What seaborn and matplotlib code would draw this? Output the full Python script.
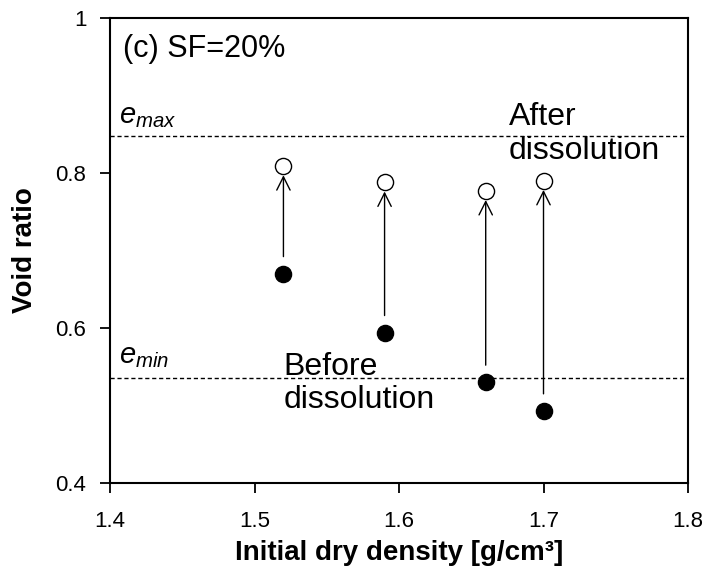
import matplotlib
matplotlib.use("Agg")
import matplotlib.pyplot as plt
import seaborn as sns
import pandas as pd

density = [1.52, 1.59, 1.66, 1.70]
e_before = [0.670, 0.594, 0.530, 0.493]
e_after = [0.809, 0.788, 0.777, 0.790]
e_max = 0.848
e_min = 0.535
x_ticks = [1.4, 1.5, 1.6, 1.7, 1.8]
y_ticks = [0.4, 0.6, 0.8, 1.0]
y_tick_labels = ["0.4", "0.6", "0.8", "1"]

sns.set_style("ticks", rc={"text.color": "black", "axes.labelcolor": "black",
                           "xtick.color": "black", "ytick.color": "black",
                           "axes.edgecolor": "black"})
plt.rcParams['font.family'] = ['Liberation Sans', 'DejaVu Sans']
plt.rcParams['mathtext.fontset'] = 'custom'
plt.rcParams['mathtext.it'] = 'Liberation Sans:italic'
plt.rcParams['mathtext.rm'] = 'Liberation Sans'

fig = plt.figure(figsize=(7.1, 5.75), dpi=100)
ax = fig.add_axes([0.155, 0.160, 0.814, 0.809])

df = pd.DataFrame({"density": density, "before": e_before, "after": e_after})

sns.scatterplot(data=df, x="density", y="before", ax=ax, color="black",
                s=135, edgecolor="black", linewidth=1, zorder=3)
sns.scatterplot(data=df, x="density", y="after", ax=ax, color="white",
                s=135, edgecolor="black", linewidth=1, zorder=3)

for xv, yb, ya in zip(density, e_before, e_after):
    ax.annotate("", xy=(xv, ya - 0.012), xytext=(xv, yb + 0.022),
                arrowprops=dict(arrowstyle="->", color="black", lw=1,
                                mutation_scale=24, shrinkA=0, shrinkB=0))

ax.axhline(e_max, color="black", ls=(0, (3, 2)), lw=1)
ax.axhline(e_min, color="black", ls=(0, (3, 2)), lw=1)

ax.text(1.406, 0.864, r"$e_{max}$", fontsize=21, ha="left", va="baseline")
ax.text(1.406, 0.555, r"$e_{min}$", fontsize=21, ha="left", va="baseline")
ax.text(1.409, 0.950, "(c) SF=20%", fontsize=22, ha="left", va="baseline")
ax.text(1.676, 0.818, "After\ndissolution", fontsize=23, ha="left", va="baseline",
        linespacing=1.15)
ax.text(1.520, 0.497, "Before\ndissolution", fontsize=23, ha="left", va="baseline",
        linespacing=1.1)

ax.set_xlim(1.4, 1.8)
ax.set_ylim(0.4, 1.0)
ax.set_xticks(x_ticks)
ax.set_xticklabels([f"{v:.1f}" for v in x_ticks])
ax.set_yticks(y_ticks)
ax.set_yticklabels(y_tick_labels)
ax.tick_params(axis="both", direction="out", length=7, width=1.3, labelsize=16,
               top=False, right=False)
ax.tick_params(axis="x", pad=13)
ax.tick_params(axis="y", pad=10)
for sp in ax.spines.values():
    sp.set_linewidth(1.5)
    sp.set_visible(True)

ax.set_xlabel("Initial dry density [g/cm³]", fontsize=20, fontweight="bold", labelpad=6)
ax.set_ylabel("Void ratio", fontsize=20, fontweight="bold", labelpad=13)

fig.savefig("out.png", dpi=100)
